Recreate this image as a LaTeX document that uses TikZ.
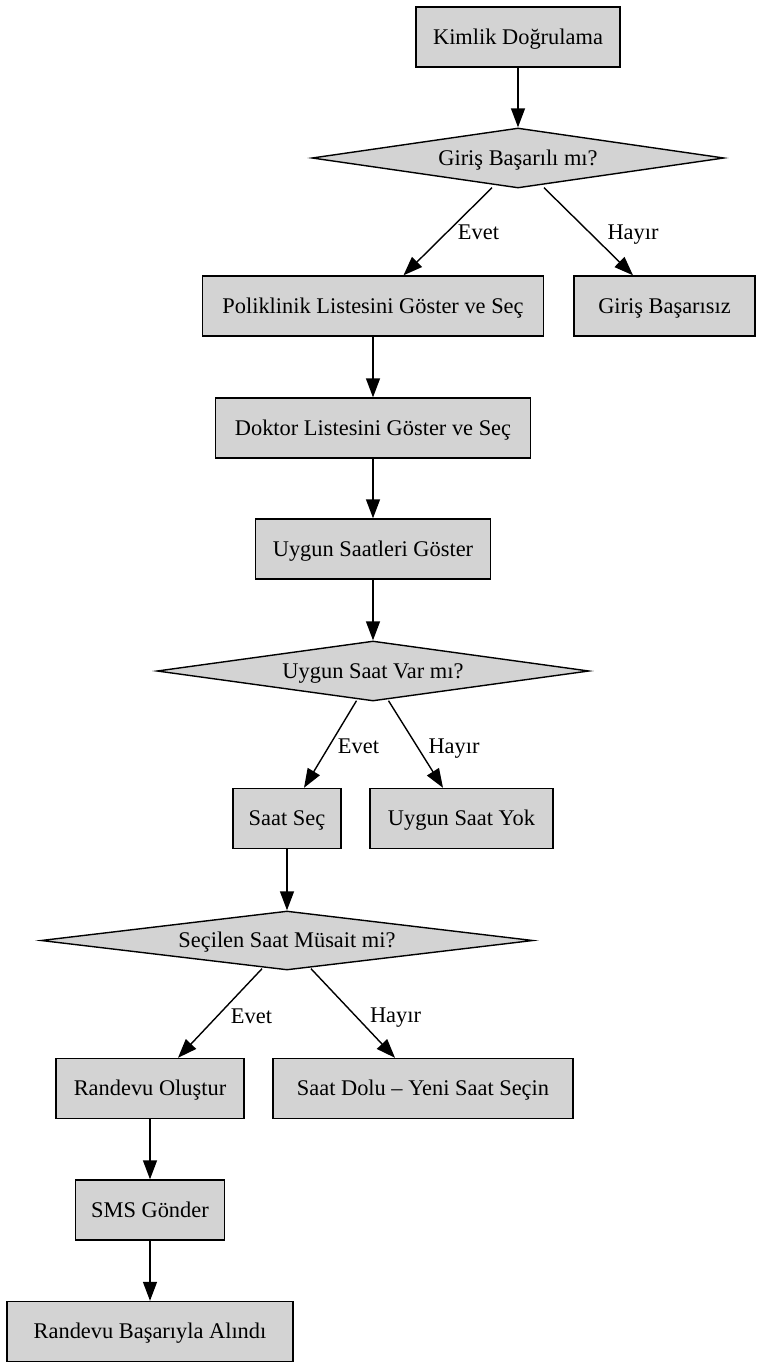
\documentclass[tikz,border=0pt]{standalone}
\usepackage{fontspec}
\setmainfont{Liberation Serif}
\usetikzlibrary{shapes.geometric,arrows.meta}
\definecolor{kutugri}{RGB}{211,211,211}

\begin{document}
\begin{tikzpicture}[x=1pt, y=-1pt,
    yazi/.style={font=\fontsize{22.4}{26}\selectfont, text height=14.8pt, text depth=0pt},
    kutu/.style={yazi, draw, fill=kutugri, line width=1.4pt, minimum height=60pt, inner sep=0pt},
    karar/.style={kutu, diamond, aspect=8},
    ok/.style={-{Triangle[length=19pt,width=14pt]}, line width=1.4pt},
    etiket/.style={yazi, inner sep=0pt}]
    \useasboundingbox (0,0) rectangle (761,1368);

    % Giris
    \node[kutu, minimum width=204pt] (kimlik) at (518,37) {Kimlik Doğrulama};
    \node[karar, minimum width=412pt] (giris) at (518,158) {Giriş Başarılı mı?};
    \node[kutu, minimum width=341pt] (poliklinik) at (373,306) {Poliklinik Listesini Göster ve Seç};
    \node[kutu, minimum width=181pt] (basarisiz) at (664.5,306) {Giriş Başarısız};

    % Doktor ve saatler
    \node[kutu, minimum width=315pt] (doktor) at (373,428) {Doktor Listesini Göster ve Seç};
    \node[kutu, minimum width=235pt] (saatler) at (373,549) {Uygun Saatleri Göster};
    \node[karar, minimum width=432pt] (uygun) at (373,671) {Uygun Saat Var mı?};
    \node[kutu, minimum width=108pt] (saatsec) at (287,818.5) {Saat Seç};
    \node[kutu, minimum width=183pt] (saatyok) at (461.5,818.5) {Uygun Saat Yok};

    % Randevu
    \node[karar, minimum width=492pt, minimum height=59pt] (secilen) at (287,940.5) {Seçilen Saat Müsait mi?};
    \node[kutu, minimum width=188pt] (randevu) at (150,1088.5) {Randevu Oluştur};
    \node[kutu, minimum width=300pt] (dolu) at (423,1088.5) {Saat Dolu – Yeni Saat Seçin};
    \node[kutu, minimum width=149pt] (sms) at (150,1210) {SMS Gönder};
    \node[kutu, minimum width=286pt] (alindi) at (150,1331.5) {Randevu Başarıyla Alındı};

    % Oklar
    \draw[ok] (kimlik) -- (giris);
    \draw[ok] ([xshift=-26pt,yshift=1pt]giris.south) -- ([xshift=30.5pt]poliklinik.north);
    \draw[ok] ([xshift=26pt,yshift=1pt]giris.south) -- ([xshift=-31.5pt]basarisiz.north);
    \draw[ok] (poliklinik) -- (doktor);
    \draw[ok] (doktor) -- (saatler);
    \draw[ok] (saatler) -- (uygun);
    \draw[ok] ([xshift=-16.5pt,yshift=1pt]uygun.south) -- ([xshift=17pt]saatsec.north);
    \draw[ok] ([xshift=15.5pt,yshift=1pt]uygun.south) -- ([xshift=-18.5pt]saatyok.north);
    \draw[ok] (saatsec) -- (secilen);
    \draw[ok] ([xshift=-25pt,yshift=2pt]secilen.south) -- ([xshift=28pt]randevu.north);
    \draw[ok] ([xshift=24pt,yshift=2pt]secilen.south) -- ([xshift=-28pt]dolu.north);
    \draw[ok] (randevu) -- (sms);
    \draw[ok] (sms) -- (alindi);

    % Etiketler
    \node[etiket] (evet1) at (478.5,232) {Evet};
    \node[etiket] (hayir1) at (633,232) {Hayır};
    \node[etiket] (evet2) at (358.5,746) {Evet};
    \node[etiket] (hayir2) at (454,746) {Hayır};
    \node[etiket] (evet3) at (251.5,1016) {Evet};
    \node[etiket] (hayir3) at (395.5,1015) {Hayır};
\end{tikzpicture}
\end{document}
